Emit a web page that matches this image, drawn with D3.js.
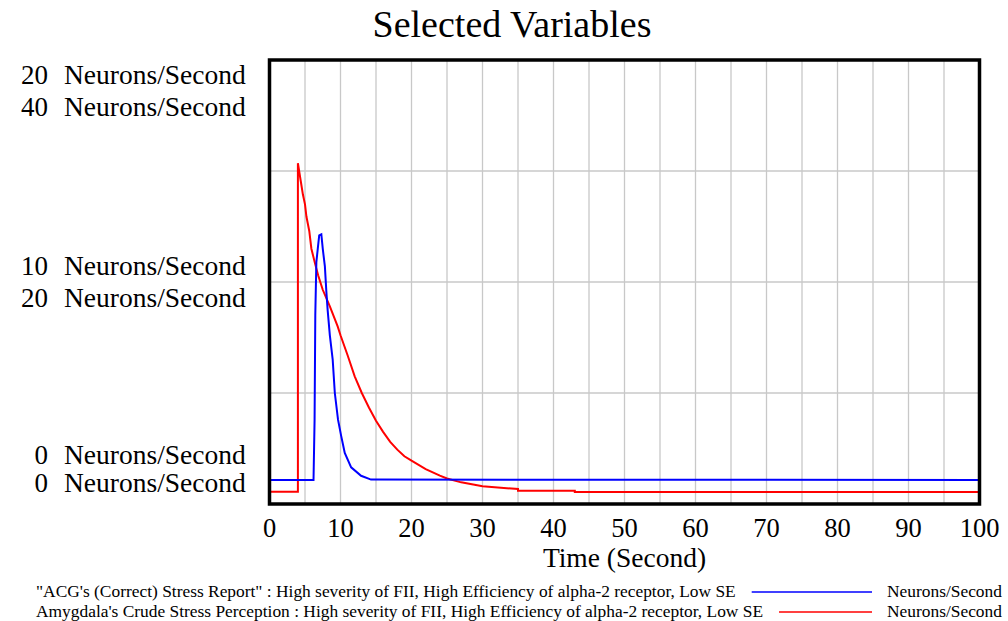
<!DOCTYPE html>
<html>
<head>
<meta charset="utf-8">
<script src="https://cdn.jsdelivr.net/npm/d3@7"></script>
<style>
  body { margin: 0; background: #fff; }
  text { font-family: "Liberation Serif", "Times New Roman", serif; fill: #000; }
</style>
</head>
<body>
<svg id="chart" width="1008" height="621"></svg>
<script>
// data: [time, value]
const acgReport = [
  [0, 1.08], [6.2, 1.08], [6.35, 3.8], [6.45, 8.5], [6.6, 10.9], [6.8, 11.5],
  [7.0, 12.1], [7.3, 12.15], [7.5, 11.5], [7.8, 10.7], [8.0, 9.6], [8.2, 8.7],
  [8.5, 7.6], [8.9, 6.5], [9.2, 5.0], [9.65, 3.8], [10.1, 3.06], [10.6, 2.3],
  [11.5, 1.65], [12.9, 1.27], [14.3, 1.1], [100, 1.08]
];
const amygdala = [
  [0, 1.1], [4.0, 1.1], [4.0, 30.7], [4.4, 29.1], [4.7, 27.9], [5, 27.0], [5.2, 25.9],
  [5.6, 24.6], [5.9, 23.0], [6.4, 21.7], [6.85, 20.6], [7.5, 19.3], [8.5, 17.8],
  [9.6, 16.0], [10, 15.2], [11, 13.4], [12, 11.5], [13, 10.0], [14, 8.7], [15, 7.5],
  [16, 6.5], [17, 5.6], [18, 4.9], [19, 4.3], [20, 3.9], [22, 3.15], [24, 2.55],
  [25, 2.3], [27, 1.95], [30, 1.6], [35, 1.35], [35, 1.2], [43, 1.2],
  [43, 1.08], [100, 1.08]
];
const xTicks = [0, 10, 20, 30, 40, 50, 60, 70, 80, 90, 100];
const blueTicks = [0, 10, 20];
const redTicks = [0, 20, 40];
const unit = "Neurons/Second";
const legendItems = [
  { label: "\"ACG's (Correct) Stress Report\" : High severity of FII, High Efficiency of alpha-2 receptor, Low SE", color: "#0000ff" },
  { label: "Amygdala's Crude Stress Perception : High severity of FII, High Efficiency of alpha-2 receptor, Low SE", color: "#ff0000" }
];

const svg = d3.select("#chart");
const plot = { left: 269.5, right: 979.5, top: 60, bottom: 504 };

const x = d3.scaleLinear().domain([0, 100]).range([plot.left, plot.right]);
const yBlue = d3.scaleLinear().domain([0, 20]).range([plot.bottom, plot.top]);
const yRed = d3.scaleLinear().domain([0, 40]).range([plot.bottom, plot.top]);

// title
svg.append("text")
  .attr("x", 512).attr("y", 37)
  .attr("text-anchor", "middle")
  .attr("font-size", "38px")
  .text("Selected Variables");

// grid
const grid = svg.append("g").attr("stroke", "#c8c8c8").attr("stroke-width", 1.3);
grid.selectAll("line.v")
  .data(d3.range(5, 100, 5))
  .enter().append("line")
  .attr("x1", d => x(d)).attr("x2", d => x(d))
  .attr("y1", plot.top).attr("y2", plot.bottom);
grid.selectAll("line.h")
  .data([5, 10, 15])
  .enter().append("line")
  .attr("x1", plot.left).attr("x2", plot.right)
  .attr("y1", d => yBlue(d)).attr("y2", d => yBlue(d));

// series
const line = yScale => d3.line().x(d => x(d[0])).y(d => yScale(d[1]));
svg.append("path")
  .datum(amygdala)
  .attr("fill", "none").attr("stroke", "#ff0000").attr("stroke-width", 2)
  .attr("d", line(yRed));
svg.append("path")
  .datum(acgReport)
  .attr("fill", "none").attr("stroke", "#0000ff").attr("stroke-width", 2)
  .attr("d", line(yBlue));

// frame
svg.append("rect")
  .attr("x", plot.left).attr("y", plot.top)
  .attr("width", plot.right - plot.left).attr("height", plot.bottom - plot.top)
  .attr("fill", "none").attr("stroke", "#000").attr("stroke-width", 3.5);

// x axis labels
svg.selectAll("text.xt")
  .data(xTicks)
  .enter().append("text")
  .attr("x", d => x(d)).attr("y", 537)
  .attr("text-anchor", "middle")
  .attr("font-size", "26.5px")
  .text(d => d);

svg.append("text")
  .attr("x", (plot.left + plot.right) / 2).attr("y", 567)
  .attr("text-anchor", "middle")
  .attr("font-size", "27.5px")
  .text("Time (Second)");

// y labels, Vensim style: blue scale first, red scale second
const offsets = [[-40, -12], [-7, 25], [24, 56]];
const yLabels = [];
blueTicks.forEach((b, i) => {
  yLabels.push({ num: b, y: yBlue(b) + offsets[i][0] });
  yLabels.push({ num: redTicks[i], y: yRed(redTicks[i]) + offsets[i][1] });
});
const yl = svg.selectAll("g.yl").data(yLabels).enter().append("g");
yl.append("text")
  .attr("x", 48).attr("y", d => d.y)
  .attr("text-anchor", "end")
  .attr("font-size", "27px")
  .text(d => d.num);
yl.append("text")
  .attr("x", 64).attr("y", d => d.y)
  .attr("font-size", "27.5px")
  .text(unit);

// legend
legendItems.forEach((d, i) => {
  const yy = 597 + i * 20;
  const t = svg.append("text")
    .attr("x", 36).attr("y", yy)
    .attr("font-size", "17.4px")
    .text(d.label);
  const w = t.node().getComputedTextLength();
  svg.append("line")
    .attr("x1", 36 + w + 16).attr("x2", 872)
    .attr("y1", yy - 5).attr("y2", yy - 5)
    .attr("stroke", d.color).attr("stroke-width", 1.5);
  svg.append("text")
    .attr("x", 887).attr("y", yy)
    .attr("font-size", "17.4px")
    .text(unit);
});
</script>
</body>
</html>
